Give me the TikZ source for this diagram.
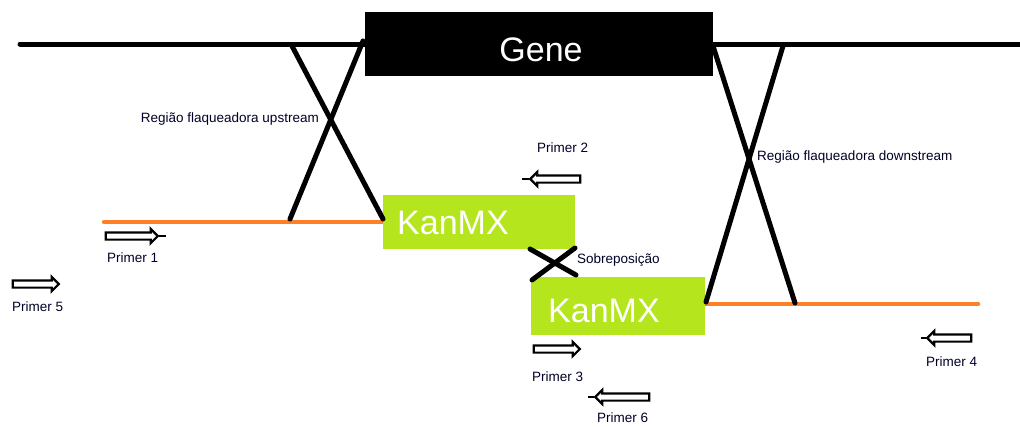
\documentclass[tikz,border=0pt]{standalone}
\usepackage{fontspec}
\setmainfont{Liberation Sans}
\usetikzlibrary{shapes.arrows}
\definecolor{paintorange}{HTML}{FF7F27}
\definecolor{paintlime}{HTML}{B5E61D}
\begin{document}
\begin{tikzpicture}[x=1pt,y=-1pt,
  dna/.style={line width=5pt,line cap=round},
  orangedna/.style={line width=4.5pt,color=paintorange,line cap=round},
  cross/.style={line width=5pt,line cap=round},
  lbl/.style={font=\fontsize{13.5}{15}\selectfont,text=black!85!blue,inner sep=0pt},
  kan/.style={fill=paintlime,inner sep=0pt,anchor=north west},
  kantext/.style={font=\fontsize{34}{36}\selectfont,text=white,anchor=west,inner sep=0pt},
  primer/.style={single arrow,draw,line width=2.2pt,fill=white,inner xsep=0pt,inner ysep=2.5pt,
    single arrow head extend=3.5pt,minimum height=#1},
  primerR/.style={primer=#1,shape border rotate=0},
  primerL/.style={primer=#1,shape border rotate=180},
  tipline/.style={line width=2.2pt}]
\useasboundingbox (0,0) rectangle (1020,426);
% top chromosome line
\coordinate (topL) at (20,44);
\coordinate (topR) at (1020,44);
\draw[dna] (topL) -- (topR);
% gene
\node[fill=black,minimum width=348pt,minimum height=64pt,inner sep=0pt] (gene) at (539,44) {};
\node[font=\fontsize{34}{36}\selectfont,text=white,inner sep=0pt] (genet) at (541,50) {Gene};
% orange flanks
\coordinate (oL1) at (104,222);
\coordinate (oL2) at (383,222);
\coordinate (oR1) at (705,304);
\coordinate (oR2) at (978,304);
\draw[orangedna] (oL1) -- (oL2);
\draw[orangedna] (oR1) -- (oR2);
% KanMX boxes
\node[kan,minimum width=192pt,minimum height=54pt] (k1) at (383,195) {};
\node[kantext] (k1t) at (397,223) {KanMX};
\node[kan,minimum width=174pt,minimum height=58pt] (k2) at (531,277) {};
\node[kantext] (k2t) at (548,311) {KanMX};
% upstream cross
\coordinate (u1) at (292,46);
\coordinate (u2) at (383,219);
\coordinate (u3) at (363,41);
\coordinate (u4) at (290,219);
\draw[cross] (u1) -- (u2);
\draw[cross] (u3) -- (u4);
% downstream cross
\coordinate (d1) at (713,46);
\coordinate (d2) at (795,303);
\coordinate (d3) at (783,46);
\coordinate (d4) at (706,302);
\draw[cross] (d1) -- (d2);
\draw[cross] (d3) -- (d4);
% overlap cross
\coordinate (s1) at (530,249);
\coordinate (s2) at (576,275);
\coordinate (s3) at (532,280);
\coordinate (s4) at (575,248);
\draw[cross] (s1) -- (s2);
\draw[cross] (s3) -- (s4);
% labels
\node[lbl,anchor=east] (lup) at (319,119) {Região flaqueadora upstream};
\node[lbl,anchor=west] (ldown) at (757,157) {Região flaqueadora downstream};
\node[lbl,anchor=west] (lsob) at (577,260) {Sobreposição};
% primers
\node[primerR=52pt] (p1) at (130,236) {};
\draw[tipline] (p1.tip) -- ++(7,0);
\node[lbl,anchor=west] (p1t) at (107,258) {Primer 1};
\node[primerL=50pt] (p2) at (557,179) {};
\draw[tipline] (p2.tip) -- ++(-7,0);
\node[lbl,anchor=west] (p2t) at (537,148) {Primer 2};
\node[primerR=46pt] (p3) at (555,349) {};
\node[lbl,anchor=west] (p3t) at (532,377) {Primer 3};
\node[primerL=44pt] (p4) at (951,338) {};
\draw[tipline] (p4.tip) -- ++(-5,0);
\node[lbl,anchor=west] (p4t) at (926,362) {Primer 4};
\node[primerR=46pt] (p5) at (34,284) {};
\node[lbl,anchor=west] (p5t) at (12,307) {Primer 5};
\node[primerL=54pt] (p6) at (624,397) {};
\draw[tipline] (p6.tip) -- ++(-6,0);
\node[lbl,anchor=west] (p6t) at (597,418) {Primer 6};
\end{tikzpicture}
\end{document}
